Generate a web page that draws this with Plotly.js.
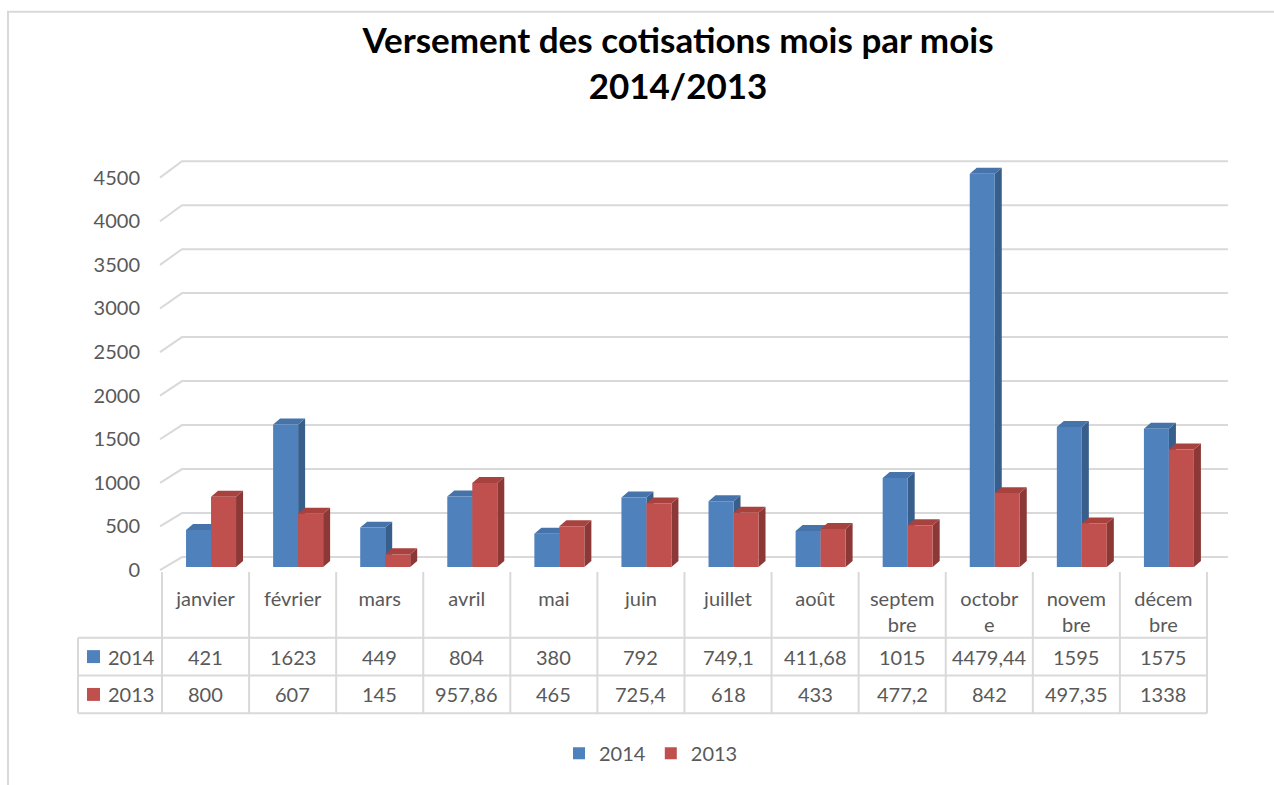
<!DOCTYPE html>
<html><head><meta charset="utf-8">
<script src="https://cdn.plot.ly/plotly-3.0.1.min.js"></script>
<style>html,body{margin:0;padding:0;background:#fff;} #chart{width:1274px;height:785px;}</style>
</head><body><div id="chart"></div>
<script>
// ---------- data ----------
const months = ['janvier','février','mars','avril','mai','juin','juillet','août','septembre','octobre','novembre','décembre'];
const monthLabels = ['janvier','février','mars','avril','mai','juin','juillet','août','septem<br>bre','octobr<br>e','novem<br>bre','décem<br>bre'];
const series2014 = [421,1623,449,804,380,792,749.1,411.68,1015,4479.44,1595,1575];
const series2013 = [800,607,145,957.86,465,725.4,618,433,477.2,842,497.35,1338];
const seriesNames = ['2014','2013'];
const yTicks = [0,500,1000,1500,2000,2500,3000,3500,4000,4500];

// ---------- geometry (px) ----------
const W=1274,H=785;
const L=155,R=1235,T=150,B=576;
const colW=87.08, col0=162;
const barZero=569, barK=0.0882;
const frontZero=572, frontK=0.0876;
const backZero=559, backK=0.0884, backLeft=182, backRight=1228, frontLeft=160;
const barShift=5.5, barW=25, depthDx=7, depthDy=6;
const FONT="Lato, 'Open Sans', sans-serif";
const GREY='#595959', LINE='#d9d9d9';
const COLORS=[{front:'#4f81bd',side:'#385e8b',top:'#4674aa'},{front:'#c0504d',side:'#8c3836',top:'#a8423f'}];

const pxToX=px=>(px-col0)/colW-0.5;
const xToPx=x=>col0+(x+0.5)*colW;
const pxToY=py=>(barZero-py)/barK;
const pxToPX=px=>(px-L)/(R-L);
const pxToPY=py=>(B-py)/(B-T);
const fmt=v=>String(v).replace('.',',');

const shapes=[];
// 3D gridlines (front diagonal + back wall)
yTicks.forEach(v=>{
  const fy=frontZero-frontK*v, by=backZero-backK*v;
  shapes.push({type:'path',xref:'x',yref:'y',layer:'below',
    path:`M${pxToX(frontLeft)},${pxToY(fy)} L${pxToX(backLeft)},${pxToY(by)} L${pxToX(backRight)},${pxToY(by)}`,
    line:{color:LINE,width:2}});
});
// bar side/top faces
const allSeries=[series2014,series2013];
const ddx=depthDx/colW, ddy=depthDy/barK, w=barW/colW;
months.forEach((m,i)=>{
  allSeries.forEach((ser,s)=>{
    const v=ser[i];
    const xl=i+(barShift-barW+s*barW)/colW, xr=xl+w;
    shapes.push({type:'path',xref:'x',yref:'y',layer:'below',line:{width:0},fillcolor:COLORS[s].side,
      path:`M${xr},0 L${xr+ddx},${ddy} L${xr+ddx},${v+ddy} L${xr},${v} Z`});
    shapes.push({type:'path',xref:'x',yref:'y',layer:'below',line:{width:0},fillcolor:COLORS[s].top,
      path:`M${xl},${v} L${xr},${v} L${xr+ddx},${v+ddy} L${xl+ddx},${v+ddy} Z`});
  });
});
// data table lines
const tLeft=78, tRight=xToPx(11.5), rowTop=640, rowMid=678, rowBot=716, catTop=574;
[rowTop,rowMid,rowBot].forEach(py=>shapes.push({type:'line',xref:'paper',yref:'paper',x0:pxToPX(tLeft),x1:pxToPX(tRight),y0:pxToPY(py),y1:pxToPY(py),line:{color:LINE,width:2}}));
shapes.push({type:'line',xref:'paper',yref:'paper',x0:pxToPX(tLeft),x1:pxToPX(tLeft),y0:pxToPY(rowTop),y1:pxToPY(rowBot),line:{color:LINE,width:2}});
for(let k=0;k<=months.length;k++){
  const px=xToPx(k-0.5);
  shapes.push({type:'line',xref:'paper',yref:'paper',x0:pxToPX(px),x1:pxToPX(px),y0:pxToPY(catTop),y1:pxToPY(rowBot),line:{color:LINE,width:2}});
}
// legend keys in table
const rowCenters=[659,697];
rowCenters.forEach((cy,s)=>{
  shapes.push({type:'rect',xref:'paper',yref:'paper',x0:pxToPX(87),x1:pxToPX(100),y0:pxToPY(cy-6.5),y1:pxToPY(cy+6.5),line:{width:0},fillcolor:COLORS[s].front});
});
// outer chart border
shapes.push({type:'rect',xref:'paper',yref:'paper',x0:pxToPX(8),x1:pxToPX(1300),y0:pxToPY(11),y1:pxToPY(820),line:{color:LINE,width:2},fillcolor:'rgba(0,0,0,0)'});

const annotations=[];
allSeries.forEach((ser,s)=>{
  annotations.push({xref:'paper',yref:'paper',x:pxToPX(106),y:pxToPY(rowCenters[s]),xanchor:'left',yanchor:'middle',text:seriesNames[s],showarrow:false,font:{family:FONT,size:20,color:GREY}});
  ser.forEach((v,i)=>annotations.push({xref:'x',yref:'paper',x:i,y:pxToPY(rowCenters[s]),xanchor:'center',yanchor:'middle',text:fmt(v),showarrow:false,font:{family:FONT,size:20,color:GREY}}));
});

const idx=months.map((m,i)=>i);
const data=[
  {type:'bar',name:seriesNames[0],x:idx,y:series2014,width:w,offset:(barShift-barW)/colW,marker:{color:COLORS[0].front,line:{width:0}},customdata:months,hovertemplate:'%{customdata}: %{y}<extra>2014</extra>'},
  {type:'bar',name:seriesNames[1],x:idx,y:series2013,width:w,offset:barShift/colW,marker:{color:COLORS[1].front,line:{width:0}},customdata:months,hovertemplate:'%{customdata}: %{y}<extra>2013</extra>'},
  {type:'scatter',x:[0],y:[0],yaxis:'y2',mode:'markers',marker:{opacity:0},showlegend:false,hoverinfo:'skip'}
];

const layout={
  width:W,height:H,autosize:false,
  margin:{l:L,r:W-R,t:T,b:H-B,pad:0},
  paper_bgcolor:'#fff',plot_bgcolor:'rgba(0,0,0,0)',
  font:{family:FONT,color:GREY,size:20},
  title:{text:'Versement des cotisations mois par mois<br>2014/2013',font:{family:FONT,size:35,color:'#000',weight:700},
    xref:'container',yref:'container',x:678/W,xanchor:'center',y:1-53/H,yanchor:'middle'},
  barmode:'overlay',
  xaxis:{type:'linear',range:[pxToX(L),pxToX(R)],tickvals:idx,ticktext:monthLabels,showgrid:false,zeroline:false,showline:false,ticks:'',
    tickfont:{family:FONT,size:20,color:GREY},ticklabelstandoff:11,fixedrange:true},
  yaxis:{range:[pxToY(B),pxToY(T)],showgrid:false,zeroline:false,showline:false,showticklabels:false,ticks:'',fixedrange:true},
  yaxis2:{overlaying:'y',side:'left',anchor:'x',range:[(frontZero-B)/frontK,(frontZero-T)/frontK],tickvals:yTicks,
    showgrid:false,zeroline:false,showline:false,ticks:'',tickfont:{family:FONT,size:20,color:GREY},ticklabelstandoff:14,fixedrange:true},
  shapes:shapes,annotations:annotations,
  showlegend:true,
  legend:{orientation:'h',x:pxToPX(651),xanchor:'center',y:pxToPY(756),yanchor:'middle',font:{family:FONT,size:20,color:GREY},bgcolor:'rgba(0,0,0,0)'}
};
Plotly.newPlot('chart',data,layout,{displayModeBar:false,staticPlot:false});
</script></body></html>
